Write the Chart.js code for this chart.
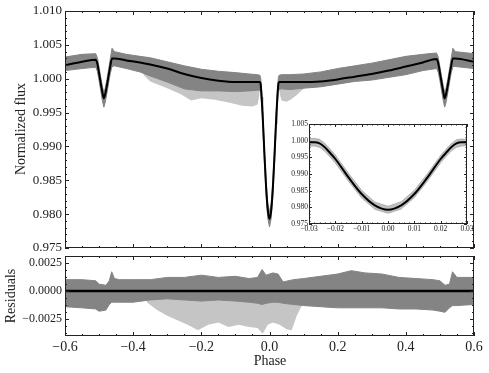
<!DOCTYPE html>
<html>
<head>
<meta charset="utf-8">
<script src="https://cdn.jsdelivr.net/npm/chart.js@4.4.1/dist/chart.umd.min.js"></script>
<style>
  html, body { margin: 0; padding: 0; background: #fff; }
  #wrap { position: relative; width: 489px; height: 373px; }
  #wrap canvas { position: absolute; left: 0; top: 0; }
</style>
</head>
<body>
<div id="wrap">
  <canvas id="main" width="489" height="373"></canvas>
  <canvas id="resid" width="489" height="373"></canvas>
  <canvas id="inset" width="489" height="373"></canvas>
</div>
<script>
/* ------------------- DATA ------------------- */
// tick labels
const phaseTicks = [-0.6, -0.4, -0.2, 0, 0.2, 0.4, 0.6];
const fluxTicks = [0.975, 0.980, 0.985, 0.990, 0.995, 1.000, 1.005, 1.010];
const residTicks = [-0.0025, 0, 0.0025];
const insetXTicks = [-0.03, -0.02, -0.01, 0, 0.01, 0.02, 0.03];
const insetYTicks = [0.975, 0.980, 0.985, 0.990, 0.995, 1.000, 1.005];

// main panel: model + envelope of the data cloud
const mainPhase = [-0.6, -0.55, -0.51, -0.505, -0.5, -0.495, -0.49, -0.486, -0.482, -0.477, -0.472, -0.467, -0.462, -0.455,
  -0.42, -0.38, -0.35, -0.3, -0.25, -0.2, -0.15, -0.1, -0.06, -0.035, -0.028, -0.026, -0.024, -0.022, -0.02, -0.015, -0.01, -0.005,
  0, 0.005, 0.01, 0.015, 0.02, 0.022, 0.024, 0.026, 0.028, 0.035, 0.06, 0.1, 0.15, 0.2, 0.25, 0.3, 0.35, 0.4, 0.45, 0.49,
  0.495, 0.5, 0.505, 0.51, 0.514, 0.518, 0.523, 0.528, 0.533, 0.538, 0.545, 0.6];
const mainModel = [1.0020, 1.0025, 1.0028, 1.0022, 1.0008, 0.9993, 0.9979, 0.9971, 0.9977, 0.9990, 1.0005, 1.0019, 1.0030, 1.0030,
  1.0027, 1.0024, 1.0021, 1.0015, 1.0007, 1.0001, 0.9997, 0.9995, 0.9995, 0.9995, 0.9995, 0.9992, 0.9980, 0.9963, 0.9945, 0.9890, 0.9840, 0.9806,
  0.9793, 0.9806, 0.9840, 0.9890, 0.9945, 0.9963, 0.9980, 0.9992, 0.9995, 0.9995, 0.9995, 0.9995, 0.9996, 0.9999, 1.0003, 1.0007, 1.0012, 1.0018, 1.0024, 1.0029,
  1.0023, 1.0009, 0.9994, 0.9980, 0.9971, 0.9977, 0.9990, 1.0005, 1.0019, 1.0030, 1.0030, 1.0025];
const mainTop = [1.0032, 1.0036, 1.0037, 1.0031, 1.0017, 1.0002, 0.9988, 0.9980, 0.9986, 0.9999, 1.0014, 1.0030, 1.0045, 1.0040,
  1.0036, 1.0033, 1.0031, 1.0025, 1.0019, 1.0014, 1.0011, 1.0009, 1.0007, 1.0006, 1.0005, 1.0002, 0.9990, 0.9973, 0.9955, 0.9900, 0.9850, 0.9816,
  0.9803, 0.9816, 0.9850, 0.9900, 0.9955, 0.9973, 0.9990, 1.0002, 1.0005, 1.0006, 1.0006, 1.0007, 1.0010, 1.0015, 1.0019, 1.0023, 1.0028, 1.0033, 1.0036, 1.0038,
  1.0032, 1.0018, 1.0003, 0.9989, 0.9980, 0.9986, 0.9999, 1.0014, 1.0030, 1.0045, 1.0040, 1.0037];
const mainBot = [1.0012, 1.0015, 1.0017, 1.0011, 0.9997, 0.9982, 0.9967, 0.9958, 0.9965, 0.9979, 0.9994, 1.0008, 1.0018, 1.0019,
  1.0015, 1.0010, 1.0004, 0.9995, 0.9985, 0.9982, 0.9982, 0.9981, 0.9982, 0.9983, 0.9983, 0.9980, 0.9968, 0.9951, 0.9933, 0.9878, 0.9828, 0.9794,
  0.9781, 0.9794, 0.9828, 0.9878, 0.9933, 0.9951, 0.9968, 0.9980, 0.9984, 0.9985, 0.9984, 0.9986, 0.9988, 0.9992, 0.9996, 0.9998, 1.0002, 1.0006, 1.0012, 1.0015,
  1.0010, 0.9997, 0.9982, 0.9967, 0.9958, 0.9965, 0.9979, 0.9994, 1.0008, 1.0018, 1.0018, 1.0015];

// sparse low points under the cloud
const sparseLPhase = [-0.37, -0.35, -0.3, -0.26, -0.23, -0.2, -0.16, -0.12, -0.08, -0.05, -0.035, -0.029];
const sparseLTop = [1.0012, 1.0006, 0.9998, 0.9990, 0.9986, 0.9985, 0.9985, 0.9984, 0.9985, 0.9986, 0.9986, 0.9986];
const sparseLBot = [1.0006, 0.9996, 0.9986, 0.9977, 0.9968, 0.9971, 0.9969, 0.9965, 0.9960, 0.9959, 0.9962, 0.9978];
const sparseRPhase = [0.029, 0.035, 0.05, 0.065, 0.08, 0.095, 0.11];
const sparseRTop = [0.9988, 0.9988, 0.9988, 0.9988, 0.9988, 0.9988, 0.9989];
const sparseRBot = [0.9980, 0.9968, 0.9966, 0.9970, 0.9976, 0.9983, 0.9989];

// residual panel
const zeroPhase = [-0.6, 0.6];
const zeroLine = [0, 0];
const resPhase = [-0.6, -0.55, -0.51, -0.5, -0.48, -0.47, -0.463, -0.455, -0.44, -0.4, -0.35, -0.3, -0.25, -0.2, -0.15, -0.1,
  -0.06, -0.035, -0.022, -0.01, 0.01, 0.025, 0.04, 0.07, 0.1, 0.15, 0.2, 0.24, 0.28, 0.33, 0.38, 0.43, 0.48, 0.5, 0.515,
  0.528, 0.537, 0.55, 0.6];
const resTop = [0.0010, 0.0010, 0.0009, 0.0006, 0.0005, 0.0009, 0.0017, 0.0011, 0.0010, 0.0010, 0.0010, 0.0012, 0.0012, 0.0014, 0.0012, 0.0013,
  0.0011, 0.0012, 0.0019, 0.0014, 0.0016, 0.0015, 0.0008, 0.0010, 0.0011, 0.0013, 0.0015, 0.0018, 0.0016, 0.0015, 0.0012, 0.0011, 0.0010, 0.0009, 0.0005,
  0.0006, 0.0017, 0.0012, 0.0012];
const resBot = [-0.0014, -0.0015, -0.0016, -0.0018, -0.0017, -0.0012, -0.0010, -0.0010, -0.0010, -0.0010, -0.0008, -0.0007, -0.0008, -0.0009, -0.0008, -0.0009,
  -0.0010, -0.0011, -0.0012, -0.0011, -0.0010, -0.0010, -0.0011, -0.0012, -0.0013, -0.0014, -0.0015, -0.0015, -0.0015, -0.0015, -0.0016, -0.0016, -0.0017, -0.0018, -0.0019,
  -0.0015, -0.0013, -0.0013, -0.0012];
const resSparsePhase = [-0.36, -0.33, -0.3, -0.27, -0.24, -0.21, -0.18, -0.15, -0.12, -0.09, -0.06, -0.035, -0.02, -0.005, 0.01, 0.03, 0.05, 0.065, 0.08, 0.095];
const resSparseTop = [-0.0006, -0.0006, -0.0006, -0.0006, -0.0006, -0.0006, -0.0006, -0.0006, -0.0006, -0.0006, -0.0006, -0.0006, -0.0006, -0.0006, -0.0006, -0.0006, -0.0006, -0.0006, -0.0006, -0.0008];
const resSparseBot = [-0.0010, -0.0017, -0.0022, -0.0026, -0.0030, -0.0035, -0.0030, -0.0028, -0.0032, -0.0030, -0.0032, -0.0033, -0.0038, -0.0030, -0.0028, -0.0030, -0.0034, -0.0035, -0.0022, -0.0013];

// inset: zoom on the primary eclipse
const insetPhase = [-0.03, -0.028, -0.026, -0.024, -0.022, -0.02, -0.015, -0.01, -0.005, 0, 0.005, 0.01, 0.015, 0.02, 0.022, 0.024, 0.026, 0.028, 0.03];
const insetModel = [0.9995, 0.9995, 0.9992, 0.9980, 0.9963, 0.9945, 0.9890, 0.9840, 0.9806, 0.9793, 0.9806, 0.9840, 0.9890, 0.9945, 0.9963, 0.9980, 0.9992, 0.9995, 0.9995];
const insetTop = [1.0006, 1.0007, 1.0004, 0.9992, 0.9975, 0.9957, 0.9902, 0.9851, 0.9816, 0.9803, 0.9817, 0.9851, 0.9901, 0.9956, 0.9974, 0.9991, 1.0003, 1.0005, 1.0004];
const insetBot = [0.9983, 0.9984, 0.9980, 0.9968, 0.9951, 0.9933, 0.9878, 0.9828, 0.9794, 0.9782, 0.9795, 0.9829, 0.9879, 0.9934, 0.9952, 0.9969, 0.9980, 0.9984, 0.9985];

/* ------------------- helpers ------------------- */
const GRAY = 'rgb(132,132,132)';
const LIGHT = 'rgba(140,140,140,0.5)';
const INK = '#222';

Chart.defaults.font.family = '"Liberation Serif", "DejaVu Serif", serif';
Chart.defaults.color = INK;

const pts = (xs, ys) => xs.map((x, i) => ({ x, y: ys[i] }));
const steps = (a, b, s) => { const out = []; for (let v = a; v <= b + s / 1000; v += s) out.push(+v.toFixed(7)); return out; };
const fmt = d => v => (+v).toFixed(d).replace('-', '\u2212');
const noGrid = { display: false, drawTicks: false };

function band(xs, top, bot, color, edge, idx, order) {
  return [
    { data: pts(xs, top), borderColor: edge, borderWidth: 1, pointRadius: 0, fill: idx + 1, backgroundColor: color, order },
    { data: pts(xs, bot), borderColor: edge, borderWidth: 1, pointRadius: 0, fill: false, order }
  ];
}

function modelLine(xs, ys, w) {
  return { data: pts(xs, ys), borderColor: '#000', borderWidth: w, pointRadius: 0, fill: false, cubicInterpolationMode: 'monotone', order: 0 };
}

// inward ticks on all four sides, frame and axis titles
const frameTicks = {
  id: 'frameTicks',
  beforeDraw(chart, args, o) {
    if (!o.whiteBg) return;
    const a = chart.chartArea, ctx = chart.ctx;
    ctx.save();
    ctx.fillStyle = '#fff';
    ctx.fillRect(a.left, a.top, a.right - a.left, a.bottom - a.top);
    ctx.restore();
  },
  afterDraw(chart, args, o) {
    const { ctx, chartArea: a, scales: { x, y } } = chart;
    ctx.save();
    ctx.strokeStyle = INK;
    ctx.lineWidth = 1;
    const seg = (x1, y1, x2, y2) => { ctx.beginPath(); ctx.moveTo(x1, y1); ctx.lineTo(x2, y2); ctx.stroke(); };
    const xt = (vals, len) => vals.forEach(v => {
      const px = Math.round(x.getPixelForValue(v)) + 0.5;
      seg(px, a.bottom, px, a.bottom - len);
      seg(px, a.top, px, a.top + len);
    });
    const yt = (vals, len) => vals.forEach(v => {
      const py = Math.round(y.getPixelForValue(v)) + 0.5;
      seg(a.left, py, a.left + len, py);
      seg(a.right, py, a.right - len, py);
    });
    xt(o.xMajor || [], o.major);
    xt(o.xMinor || [], o.minor);
    yt(o.yMajor || [], o.major);
    yt(o.yMinor || [], o.minor);
    ctx.strokeRect(Math.round(a.left) + 0.5, Math.round(a.top) + 0.5, Math.round(a.right - a.left) - 1, Math.round(a.bottom - a.top) - 1);

    ctx.fillStyle = INK;
    ctx.textAlign = 'center';
    ctx.textBaseline = 'middle';
    (o.titles || []).forEach(t => {
      ctx.save();
      ctx.translate(t.x, t.y);
      ctx.rotate(t.rot || 0);
      ctx.font = t.size + 'px ' + Chart.defaults.font.family;
      ctx.fillText(t.text, 0, 0);
      ctx.restore();
    });
    ctx.restore();
  }
};

const baseOpts = (padding) => ({
  responsive: false,
  animation: false,
  events: [],
  layout: { padding },
  plugins: { legend: { display: false }, tooltip: { enabled: false } }
});

/* ------------------- main panel ------------------- */
const mainOpts = baseOpts({ left: 0, top: 11, right: 15, bottom: 125 });
mainOpts.plugins.frameTicks = {
  xMajor: phaseTicks, xMinor: steps(-0.6, 0.6, 0.05), yMajor: fluxTicks, yMinor: steps(0.975, 1.010, 0.001),
  major: 4, minor: 2,
  titles: [{ text: 'Normalized flux', x: 21, y: 129, rot: -Math.PI / 2, size: 14 }]
};
mainOpts.scales = {
  x: { type: 'linear', min: -0.6, max: 0.6, grid: noGrid, border: { display: false },
       ticks: { display: false }, afterFit: s => { s.height = 0; } },
  y: { type: 'linear', min: 0.975, max: 1.010, grid: noGrid, border: { display: false },
       ticks: { padding: 3, font: { size: 13 }, callback: fmt(3) },
       afterBuildTicks: s => { s.ticks = fluxTicks.map(v => ({ value: v })); },
       afterFit: s => { s.width = 65; } }
};
new Chart(document.getElementById('main'), {
  type: 'line',
  data: { datasets: [
    modelLine(mainPhase, mainModel, 2),
    ...band(mainPhase, mainTop, mainBot, GRAY, GRAY, 1, 1),
    ...band(sparseLPhase, sparseLTop, sparseLBot, LIGHT, 'rgba(0,0,0,0)', 3, 2),
    ...band(sparseRPhase, sparseRTop, sparseRBot, LIGHT, 'rgba(0,0,0,0)', 5, 2)
  ] },
  options: mainOpts,
  plugins: [frameTicks]
});

/* ------------------- residual panel ------------------- */
const resOpts = baseOpts({ left: 0, top: 256, right: 15, bottom: 0 });
resOpts.plugins.frameTicks = {
  xMajor: phaseTicks, xMinor: steps(-0.6, 0.6, 0.05), yMajor: residTicks, yMinor: steps(-0.00375, 0.0025, 0.000625),
  major: 4, minor: 2,
  titles: [
    { text: 'Residuals', x: 11, y: 296, rot: -Math.PI / 2, size: 14 },
    { text: 'Phase', x: 270, y: 361, size: 14 }
  ]
};
resOpts.scales = {
  x: { type: 'linear', min: -0.6, max: 0.6, grid: noGrid, border: { display: false },
       ticks: { padding: 3, font: { size: 14 }, callback: fmt(1), maxRotation: 0 },
       afterBuildTicks: s => { s.ticks = phaseTicks.map(v => ({ value: v })); },
       afterFit: s => { s.height = 37; } },
  y: { type: 'linear', min: -0.0040, max: 0.0031, grid: noGrid, border: { display: false },
       ticks: { padding: 3, font: { size: 12 }, callback: fmt(4) },
       afterBuildTicks: s => { s.ticks = residTicks.map(v => ({ value: v })); },
       afterFit: s => { s.width = 65; } }
};
new Chart(document.getElementById('resid'), {
  type: 'line',
  data: { datasets: [
    modelLine(zeroPhase, zeroLine, 2.5),
    ...band(resPhase, resTop, resBot, GRAY, GRAY, 1, 1),
    ...band(resSparsePhase, resSparseTop, resSparseBot, LIGHT, 'rgba(0,0,0,0)', 3, 2)
  ] },
  options: resOpts,
  plugins: [frameTicks]
});

/* ------------------- inset ------------------- */
const insOpts = baseOpts({ left: 279, top: 124, right: 22, bottom: 137 });
insOpts.plugins.frameTicks = {
  whiteBg: true,
  xMajor: insetXTicks, yMajor: insetYTicks, major: 3, minor: 1.5,
  xMinor: steps(-0.03, 0.03, 0.002), yMinor: steps(0.975, 1.005, 0.001)
};
insOpts.scales = {
  x: { type: 'linear', min: -0.03, max: 0.03, grid: noGrid, border: { display: false },
       ticks: { padding: 1, font: { size: 7.5 }, callback: fmt(2), maxRotation: 0, autoSkip: false },
       afterBuildTicks: s => { s.ticks = insetXTicks.map(v => ({ value: v })); },
       afterFit: s => { s.height = 12; } },
  y: { type: 'linear', min: 0.975, max: 1.005, grid: noGrid, border: { display: false },
       ticks: { padding: 1, font: { size: 7.5 }, callback: fmt(3), autoSkip: false },
       afterBuildTicks: s => { s.ticks = insetYTicks.map(v => ({ value: v })); },
       afterFit: s => { s.width = 30; } }
};
new Chart(document.getElementById('inset'), {
  type: 'line',
  data: { datasets: [
    modelLine(insetPhase, insetModel, 2),
    ...band(insetPhase, insetTop, insetBot, 'rgba(150,150,150,0.6)', 'rgba(150,150,150,0.6)', 1, 1)
  ] },
  options: insOpts,
  plugins: [frameTicks]
});
</script>
</body>
</html>
